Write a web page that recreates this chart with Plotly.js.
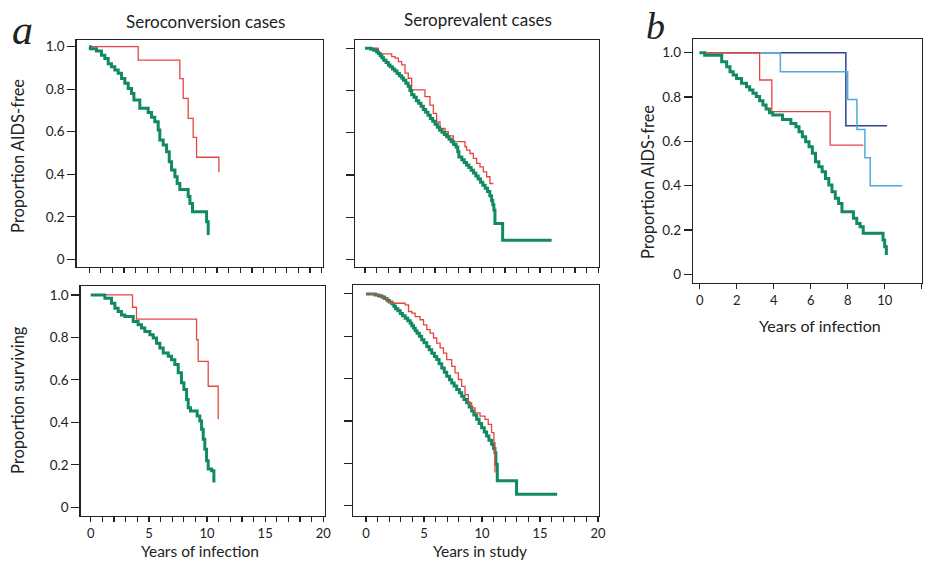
<!DOCTYPE html>
<html><head><meta charset="utf-8">
<script src="https://cdn.plot.ly/plotly-3.0.1.min.js"></script>
<style>body{margin:0;background:#fff}#c{width:929px;height:562px}</style>
</head><body><div id="c"></div>
<script>
// ---- Data ----
// Panel a, seroconversion, AIDS-free
const scAidsGreenT = [0, 0.1, 0.63, 1.06, 1.35, 1.64, 1.92, 2.21, 2.50, 2.79, 3.07, 3.36, 3.65, 3.85, 4.36, 5.08, 5.37, 5.65, 5.94, 6.08, 6.37, 6.66, 6.89, 7.09, 7.38, 7.57, 7.80, 8.52, 8.67, 8.89, 10.10, 10.24];
const scAidsGreenS = [1, 0.99, 0.98, 0.96, 0.945, 0.92, 0.906, 0.89, 0.875, 0.851, 0.828, 0.804, 0.78, 0.749, 0.71, 0.69, 0.668, 0.647, 0.608, 0.561, 0.538, 0.506, 0.459, 0.42, 0.389, 0.357, 0.329, 0.295, 0.263, 0.224, 0.177, 0.114];
const scAidsRedT = [0, 4.22, 7.80, 8.09, 8.52, 8.95, 9.24, 11.16];
const scAidsRedS = [1, 0.937, 0.85, 0.757, 0.663, 0.574, 0.48, 0.41];
// Panel a, seroprevalent, AIDS-free
const spAidsGreenT = [0, 0.5, 0.75, 1.0, 1.15, 1.3, 1.45, 1.6, 1.8, 2.0, 2.15, 2.35, 2.55, 2.75, 2.95, 3.15, 3.3, 3.5, 3.7, 3.85, 4.0, 4.2, 4.4, 4.6, 4.8, 5.0, 5.2, 5.4, 5.6, 5.8, 6.0, 6.2, 6.4, 6.6, 6.8, 7.0, 7.2, 7.4, 7.6, 7.8, 7.95, 8.05, 8.3, 8.5, 8.7, 8.9, 9.1, 9.3, 9.5, 9.7, 9.9, 10.1, 10.3, 10.5, 10.7, 10.85, 10.95, 11.05, 11.14, 11.8, 16.0];
const spAidsGreenS = [1, 0.995, 0.99, 0.982, 0.975, 0.965, 0.955, 0.943, 0.932, 0.921, 0.912, 0.902, 0.892, 0.881, 0.87, 0.859, 0.849, 0.834, 0.82, 0.8, 0.78, 0.768, 0.752, 0.74, 0.726, 0.71, 0.697, 0.683, 0.668, 0.654, 0.64, 0.626, 0.612, 0.602, 0.592, 0.581, 0.57, 0.558, 0.545, 0.533, 0.51, 0.485, 0.472, 0.46, 0.448, 0.436, 0.423, 0.41, 0.395, 0.381, 0.366, 0.352, 0.338, 0.322, 0.302, 0.28, 0.26, 0.234, 0.171, 0.092, 0.092];
const spAidsRedT = [0, 1.14, 2.29, 2.57, 2.86, 3.14, 3.43, 3.71, 4.0, 5.14, 5.57, 5.86, 6.14, 6.43, 6.86, 7.14, 7.57, 8.57, 8.71, 9.0, 9.29, 9.57, 9.86, 10.14, 10.43, 10.71, 11.0];
const spAidsRedS = [1, 0.973, 0.96, 0.953, 0.937, 0.921, 0.882, 0.858, 0.803, 0.771, 0.731, 0.692, 0.652, 0.621, 0.605, 0.585, 0.558, 0.534, 0.518, 0.502, 0.479, 0.455, 0.439, 0.415, 0.392, 0.36, 0.36];
// Panel a, seroconversion, surviving
const scSurvGreenT = [0, 1.21, 1.78, 2.07, 2.35, 2.64, 2.93, 3.65, 4.07, 4.36, 4.65, 5.08, 5.37, 5.65, 5.94, 6.23, 6.66, 6.94, 7.23, 7.52, 7.80, 8.01, 8.24, 8.38, 8.58, 9.15, 9.38, 9.53, 9.67, 9.81, 9.96, 10.1, 10.39, 10.59];
const scSurvGreenS = [1, 0.984, 0.961, 0.9375, 0.922, 0.906, 0.898, 0.875, 0.859, 0.844, 0.828, 0.8125, 0.797, 0.773, 0.75, 0.727, 0.711, 0.695, 0.672, 0.633, 0.586, 0.555, 0.508, 0.469, 0.453, 0.43, 0.406, 0.367, 0.32, 0.273, 0.219, 0.18, 0.172, 0.117];
const scSurvRedT = [0, 3.59, 3.93, 9.1, 9.24, 10.1, 10.96];
const scSurvRedS = [1, 0.942, 0.886, 0.789, 0.6875, 0.57, 0.414];
// Panel a, seroprevalent, surviving
const spSurvGreenT = [0, 0.8, 1.1, 1.38, 1.6, 1.81, 2.0, 2.23, 2.4, 2.55, 2.75, 2.95, 3.15, 3.38, 3.6, 3.81, 3.95, 4.1, 4.25, 4.4, 4.6, 4.8, 5.0, 5.24, 5.45, 5.67, 5.9, 6.1, 6.3, 6.53, 6.75, 6.96, 7.2, 7.39, 7.6, 7.82, 8.05, 8.25, 8.45, 8.68, 8.9, 9.11, 9.3, 9.54, 9.75, 9.97, 10.2, 10.4, 10.6, 10.83, 11.0, 11.12, 11.2, 11.32, 12.98, 16.48];
const spSurvGreenS = [1, 0.995, 0.99, 0.985, 0.978, 0.97, 0.962, 0.954, 0.942, 0.93, 0.92, 0.908, 0.897, 0.885, 0.873, 0.861, 0.85, 0.838, 0.826, 0.814, 0.8, 0.784, 0.769, 0.752, 0.736, 0.72, 0.705, 0.69, 0.67, 0.65, 0.63, 0.611, 0.595, 0.58, 0.565, 0.549, 0.533, 0.517, 0.502, 0.486, 0.466, 0.447, 0.428, 0.408, 0.388, 0.368, 0.348, 0.329, 0.31, 0.29, 0.27, 0.251, 0.196, 0.118, 0.055, 0.055];
const spSurvRedT = [0, 0.95, 1.38, 1.81, 2.23, 3.38, 3.67, 3.95, 4.24, 4.67, 4.96, 5.24, 5.53, 5.82, 6.10, 6.39, 6.68, 6.96, 7.39, 7.68, 7.97, 8.25, 8.54, 8.83, 9.11, 9.40, 9.83, 10.26, 10.54, 10.83, 11.03, 11.12];
const spSurvRedS = [1, 0.995, 0.98, 0.964, 0.956, 0.948, 0.917, 0.909, 0.893, 0.878, 0.854, 0.831, 0.815, 0.792, 0.768, 0.745, 0.721, 0.69, 0.658, 0.627, 0.596, 0.564, 0.525, 0.486, 0.462, 0.439, 0.423, 0.408, 0.384, 0.345, 0.298, 0.157];
// Panel b
const bGreenT = [0, 0.27, 1.19, 1.46, 1.64, 1.81, 1.99, 2.26, 2.53, 2.70, 2.88, 3.06, 3.24, 3.42, 3.59, 3.77, 3.95, 4.48, 4.93, 5.20, 5.37, 5.55, 5.73, 5.91, 6.09, 6.26, 6.44, 6.62, 6.80, 6.98, 7.15, 7.33, 7.51, 7.69, 8.31, 8.49, 8.67, 8.84, 9.91, 10.0, 10.09];
const bGreenS = [1, 0.989, 0.959, 0.937, 0.914, 0.899, 0.884, 0.862, 0.847, 0.832, 0.817, 0.802, 0.783, 0.764, 0.746, 0.729, 0.719, 0.699, 0.681, 0.666, 0.644, 0.621, 0.598, 0.576, 0.546, 0.508, 0.486, 0.463, 0.433, 0.403, 0.373, 0.343, 0.32, 0.283, 0.253, 0.23, 0.215, 0.185, 0.155, 0.125, 0.087];
const bRedT = [0, 3.24, 3.9, 7.05, 8.84];
const bRedS = [1, 0.877, 0.734, 0.583, 0.583];
const bDarkBlueT = [0, 7.9, 10.13];
const bDarkBlueS = [1, 0.671, 0.671];
const bLightBlueT = [0, 4.36, 8.0, 8.5, 8.93, 9.22, 10.96];
const bLightBlueS = [1, 0.914, 0.789, 0.654, 0.526, 0.4, 0.4];

const yTickVals = [0, 0.2, 0.4, 0.6, 0.8, 1.0];
const yTickText = ['0', '0.2', '0.4', '0.6', '0.8', '1.0'];
const aXTickVals = [0,1,2,3,4,5,6,7,8,9,10,11,12,13,14,15,16,17,18,19,20];
const aXTickText = ['0','','','','','5','','','','','10','','','','','15','','','','','20'];
const bXTickVals = [0, 2, 4, 6, 8, 10, 12];
const bXTickText = ['0', '2', '4', '6', '8', '10', '12'];

// ---- Styling / layout ----
const W = 929, H = 562;
const px = v => v / W, py = v => 1 - v / H;
const GREEN = '#118a61', RED = '#e6463f', DBLUE = '#2d4596', LBLUE = '#4eaadd';
const FONT = 'Lato, "Noto Sans", sans-serif';

function tr(x, y, color, width, ax) {
  return {x: x, y: y, type: 'scatter', mode: 'lines', line: {shape: 'hv', color: color, width: width},
    xaxis: 'x' + ax, yaxis: 'y' + ax, hoverinfo: 'skip', showlegend: false};
}
const data = [
  tr(scAidsRedT, scAidsRedS, RED, 1.3, ''),
  tr(scAidsGreenT, scAidsGreenS, GREEN, 3, ''),
  tr(spAidsRedT, spAidsRedS, RED, 1.3, '2'),
  tr(spAidsGreenT, spAidsGreenS, GREEN, 3, '2'),
  tr(scSurvRedT, scSurvRedS, RED, 1.3, '3'),
  tr(scSurvGreenT, scSurvGreenS, GREEN, 3, '3'),
  tr(spSurvGreenT, spSurvGreenS, GREEN, 3, '4'),
  tr(spSurvRedT, spSurvRedS, RED, 1.3, '4'),
  tr(bDarkBlueT, bDarkBlueS, DBLUE, 1.5, '5'),
  tr(bLightBlueT, bLightBlueS, LBLUE, 1.5, '5'),
  tr(bRedT, bRedS, RED, 1.3, '5'),
  tr(bGreenT, bGreenS, GREEN, 3, '5')
];

function xax(dom, range, ax, vals, text, showLab) {
  return {domain: [px(dom[0]), px(dom[1])], range: range, anchor: 'y' + ax,
    showline: true, mirror: true, linecolor: '#222', linewidth: 1.3,
    ticks: 'outside', ticklen: 5, tickwidth: 1.2, tickcolor: '#222',
    tickvals: vals, ticktext: text, showticklabels: showLab,
    showgrid: false, zeroline: false, fixedrange: true,
    tickfont: {family: FONT, size: 13, color: '#222'}};
}
function yax(dom, range, ax, showLab) {
  return {domain: [py(dom[1]), py(dom[0])], range: range, anchor: 'x' + ax,
    showline: true, mirror: true, linecolor: '#222', linewidth: 1.3,
    ticks: 'outside', ticklen: 8, tickwidth: 1.2, tickcolor: '#222',
    tickvals: yTickVals, ticktext: yTickText, showticklabels: showLab,
    showgrid: false, zeroline: false, fixedrange: true,
    tickfont: {family: FONT, size: 13.5, color: '#222'}};
}

function ann(text, x, y, size, opts) {
  return Object.assign({text: text, x: px(x), y: py(y), xref: 'paper', yref: 'paper',
    showarrow: false, xanchor: 'center', yanchor: 'middle',
    font: {family: FONT, size: size, color: '#222'}}, opts || {});
}

const layout = {
  width: W, height: H, margin: {l: 0, r: 0, t: 0, b: 0},
  paper_bgcolor: '#fff', plot_bgcolor: '#fff', showlegend: false,
  xaxis: xax([76.5, 323], [-1.084, 20.11], '', aXTickVals, aXTickText, false),
  yaxis: yax([40, 267], [-0.036, 1.0315], '', true),
  xaxis2: xax([355, 599], [-0.857, 20.06], '2', aXTickVals, aXTickText, false),
  yaxis2: yax([40, 267], [-0.035, 1.039], '2', false),
  xaxis3: xax([80.5, 325], [-0.887, 20.15], '3', aXTickVals, aXTickText, true),
  yaxis3: yax([286, 516], [-0.041, 1.042], '3', true),
  xaxis4: xax([353, 599], [-1.12, 20.09], '4', aXTickVals, aXTickText, true),
  yaxis4: yax([285, 516], [-0.048, 1.042], '4', false),
  xaxis5: xax([693, 921.7], [-0.36, 12], '5', bXTickVals, bXTickText, true),
  yaxis5: yax([39, 283], [-0.039, 1.062], '5', true),
  annotations: [
    ann('<i>a</i>', 22, 30, 42, {font: {family: '"Liberation Serif", serif', size: 42, color: '#222'}}),
    ann('<i>b</i>', 655, 26, 38, {font: {family: '"Liberation Serif", serif', size: 38, color: '#222'}}),
    ann('Seroconversion cases', 205, 21, 17),
    ann('Seroprevalent cases', 478, 20, 17),
    ann('Proportion AIDS-free', 18, 156, 16.5, {textangle: -90}),
    ann('Proportion surviving', 18, 400, 16.5, {textangle: -90}),
    ann('Proportion AIDS-free', 648, 182, 16.5, {textangle: -90}),
    ann('Years of infection', 200, 551, 15.5),
    ann('Years in study', 480, 551, 15.5),
    ann('Years of infection', 820, 325, 16)
  ]
};
Plotly.newPlot('c', data, layout, {displayModeBar: false, staticPlot: true});
</script></body></html>
